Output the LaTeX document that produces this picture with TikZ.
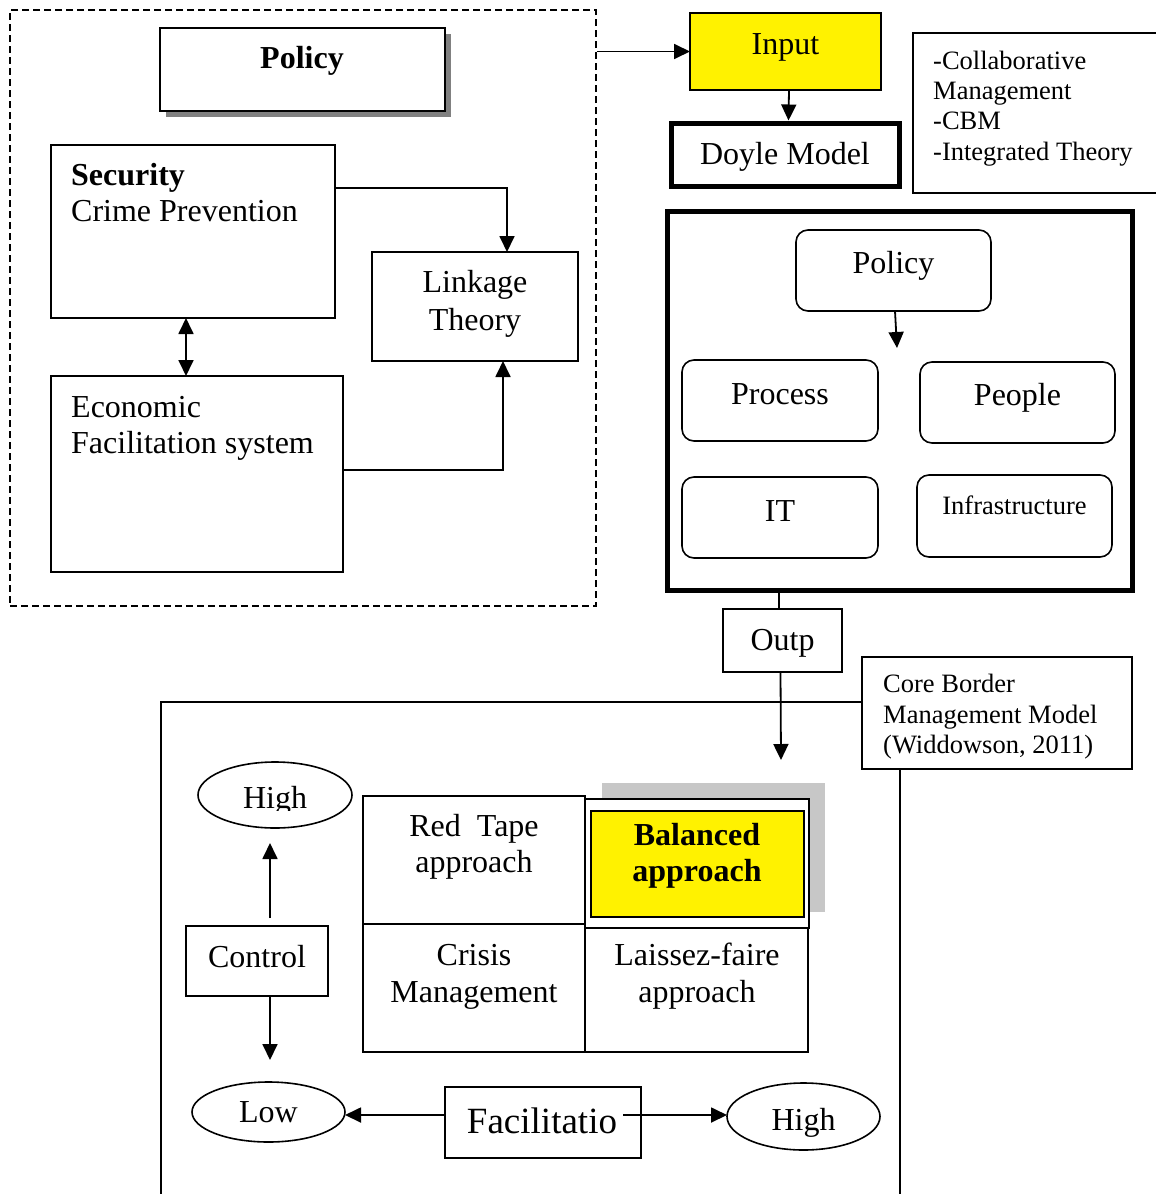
\documentclass[tikz,border=0pt]{standalone}
\usepackage{fontspec}
\setmainfont{Liberation Serif}
\usetikzlibrary{arrows.meta,calc,shapes.geometric}
\begin{document}
\begin{tikzpicture}[x=1pt,y=-1pt,
  box/.style={draw, line width=1.6pt, rectangle, inner sep=0pt, outer sep=0pt},
  rbox/.style={box, rounded corners=12pt},
  ell/.style={draw, line width=1.6pt, ellipse, inner sep=0pt, outer sep=0pt},
  arr/.style={line width=1.8pt, -{Triangle[length=16pt,width=15pt]}},
  darr/.style={line width=1.8pt, {Triangle[length=16pt,width=15pt]}-{Triangle[length=16pt,width=15pt]}},
  ln/.style={line width=1.6pt},
  tx/.style={inner sep=0pt, anchor=base, font=\fontsize{32}{37}\selectfont},
  txl/.style={tx, anchor=base west},
  sm/.style={inner sep=0pt, anchor=base, font=\fontsize{26.5}{30}\selectfont},
  sml/.style={sm, anchor=base west},
  big/.style={inner sep=0pt, anchor=base, font=\fontsize{37}{42}\selectfont}
]
\useasboundingbox (0,0) rectangle (1156,1194);

% ---------- left dashed frame ----------
\node[draw, line width=1.5pt, dash pattern=on 7pt off 4pt, minimum width=586pt, minimum height=596pt, inner sep=0pt] (frame) at (303,308) {};

\fill[black!50] (166,34) rectangle (451,117);
\node[box, fill=white, minimum width=285pt, minimum height=83pt] (pol1) at (302.5,69.5) {};
\node[tx, font=\fontsize{32}{37}\selectfont\bfseries] (pol1t) at (302,68) {Policy};

\node[box, minimum width=284pt, minimum height=173pt] (sec) at (193,231.5) {};
\node[txl, font=\fontsize{32}{37}\selectfont\bfseries] (sect1) at (71,185) {Security};
\node[txl] (sect2) at (71,221) {Crime Prevention};

\node[box, minimum width=292pt, minimum height=196pt] (econ) at (197,474) {};
\node[txl] (econt1) at (71,417) {Economic};
\node[txl] (econt2) at (71,453) {Facilitation system};

\node[box, minimum width=206pt, minimum height=109pt] (link) at (475,306.5) {};
\node[tx] (linkt1) at (475,292) {Linkage};
\node[tx] (linkt2) at (475,330) {Theory};

\draw[arr] ($(sec.north east)+(0,43)$) -| ($(link.north)+(32,0)$);
\draw[arr] ($(econ.east)+(0,-4)$) -| ($(link.south)+(28,0)$);
\draw[darr] ($(sec.south)+(-7,0)$) -- ($(econ.north)+(-11,0)$);

% ---------- input / Doyle ----------
\node[box, fill=yellow, minimum width=191pt, minimum height=77pt] (input) at (785.5,51.5) {};
\node[tx] (inputt) at (785.5,54) {Input};
\draw[arr] (frame.east |- input.west) -- (input.west);

\node[box, line width=5pt, minimum width=228pt, minimum height=63pt] (doyle) at (785,154.5) {};
\node[tx] (doylet) at (785,164) {Doyle Model};
\draw[arr] ($(input.south)+(3.5,0)$) -- ($(doyle.north)+(3.5,-2.5)$);

\draw[ln] (1160,33) -- (913,33) -- (913,193) -- (1160,193);
\coordinate (tl) at (913,33);
\node[sml] (c1) at (933,69) {-Collaborative};
\node[sml] (c2) at (933,99) {Management};
\node[sml] (c3) at (933,129) {-CBM};
\node[sml] (c4) at (933,160) {-Integrated Theory};

% ---------- Doyle big box ----------
\node[box, line width=5pt, minimum width=465pt, minimum height=379pt] (doylebox) at (900,401) {};

\node[rbox, minimum width=195pt, minimum height=81pt] (pol2) at (893.5,270.5) {};
\node[tx] (pol2t) at (893.5,273) {Policy};
\coordinate (polarr) at (897,348);
\draw[arr] ($(pol2.south)+(1.5,0)$) -- (polarr);

\node[rbox, minimum width=196pt, minimum height=81pt] (proc) at (780,400.5) {};
\node[tx] (proct) at (780,404) {Process};
\node[rbox, minimum width=195pt, minimum height=81pt] (peop) at (1017.5,402.5) {};
\node[tx] (peopt) at (1017.5,405) {People};
\node[rbox, minimum width=196pt, minimum height=81pt] (it) at (780,517.5) {};
\node[tx] (itt) at (780,521) {IT};
\node[rbox, minimum width=195pt, minimum height=82pt] (infra) at (1014.5,516) {};
\node[sm] (infrat) at (1014.5,514) {Infrastructure};

% ---------- output ----------
\node[box, minimum width=119pt, minimum height=63pt] (outp) at (782.5,640.5) {};
\node[tx] (outpt) at (782.5,650) {Outp};
\draw[ln] ($(doylebox.south)+(-121,2.5)$) -- ($(outp.north)+(-3.5,0)$);
\coordinate (outarr) at (781,760);
\draw[arr] ($(outp.south)+(-2,0)$) -- (outarr);

% ---------- bottom frame ----------
\draw[ln] (161,1196) -- (161,702) -- (862,702);
\node[box, fill=white, minimum width=270pt, minimum height=112pt] (core) at (997,713) {};
\draw[ln] (900,769) -- (900,1196);
\node[sml] (core1) at (883,692) {Core Border};
\node[sml] (core2) at (883,723) {Management Model};
\node[sml] (core3) at (883,753) {(Widdowson, 2011)};

% ---------- grid ----------
\fill[black!22] (602,783) rectangle (825,912);
\node[box, fill=white, minimum width=222pt, minimum height=128pt] (red) at (474,860) {};
\node[tx] (redt1) at (474,836) {Red\ \ Tape};
\node[tx] (redt2) at (474,872) {approach};
\node[box, minimum width=222pt, minimum height=128pt] (crisis) at (474,988) {};
\node[tx] (crt1) at (474,965) {Crisis};
\node[tx] (crt2) at (474,1002) {Management};
\node[box, fill=white, minimum width=224pt, minimum height=129pt] (bal) at (697,863.5) {};
\node[box, line width=2.2pt, fill=yellow, minimum width=213pt, minimum height=106pt] (balin) at (697.5,864) {};
\node[tx, font=\fontsize{32}{37}\selectfont\bfseries] (balt1) at (697,845) {Balanced};
\node[tx, font=\fontsize{32}{37}\selectfont\bfseries] (balt2) at (697,881) {approach};
\node[box, minimum width=223pt, minimum height=124pt] (lais) at (696.5,990) {};
\node[tx] (lat1) at (697,965) {Laissez-faire};
\node[tx] (lat2) at (697,1002) {approach};

% ---------- control axis ----------
\node[ell, minimum width=154pt, minimum height=66pt] (high1) at (275,795) {};
\begin{scope}
\clip (198,762) rectangle (352,810);
\node[tx] (high1t) at (275,808) {High};
\end{scope}
\node[box, minimum width=142pt, minimum height=70pt] (ctrl) at (257,961) {};
\node[tx] (ctrlt) at (257,967) {Control};
\draw[arr] ($(ctrl.north)+(13,-8)$) -- ($(high1.south)+(-5,15)$);
\node[ell, minimum width=153pt, minimum height=60pt] (low) at (268.5,1112) {};
\node[tx] (lowt) at (268.5,1122) {Low};
\draw[arr] ($(ctrl.south)+(13,0)$) -- ($(low.north)+(1.5,-22)$);

% ---------- facilitation axis ----------
\node[box, minimum width=196pt, minimum height=71pt] (fac) at (543,1122.5) {};
\node[big] (fact) at (542,1133) {Facilitatio};
\node[ell, minimum width=153pt, minimum height=67pt] (high2) at (803.5,1116.5) {};
\node[tx] (high2t) at (803.5,1130) {High};
\coordinate (fl) at (445,1115);
\coordinate (fr) at (623,1115);
\draw[arr] (fl) -- (low.east |- fl);
\draw[arr] (fr) -- (high2.west |- fr);
\end{tikzpicture}
\end{document}
